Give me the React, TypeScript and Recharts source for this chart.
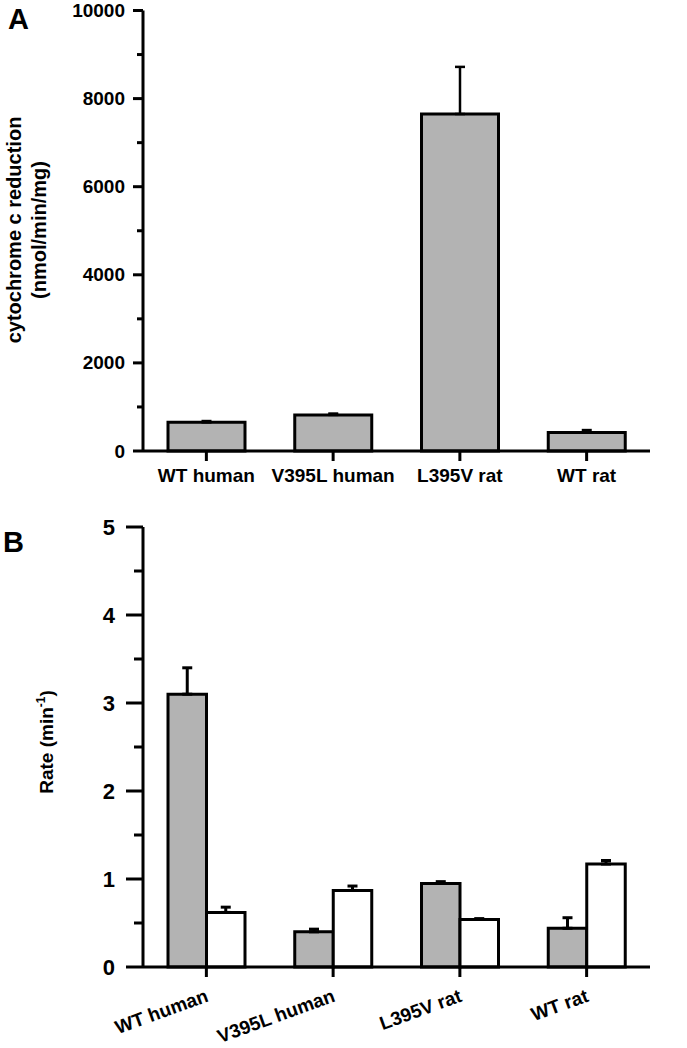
import React from 'react';
import { BarChart, Bar, XAxis, YAxis, ErrorBar } from 'recharts';

const categories = ['WT human', 'V395L human', 'L395V rat', 'WT rat'];
const reductionValues = [650, 820, 7650, 420];
const reductionErrors = [30, 30, 1070, 55];
const reductionTicks = [0, 1000, 2000, 3000, 4000, 5000, 6000, 7000, 8000, 9000, 10000];

const rateGray = [3.1, 0.4, 0.95, 0.44];
const rateGrayErr = [0.3, 0.03, 0.02, 0.12];
const rateWhite = [0.62, 0.87, 0.54, 1.17];
const rateWhiteErr = [0.06, 0.05, 0.01, 0.04];
const rateTicks = [0, 0.5, 1, 1.5, 2, 2.5, 3, 3.5, 4, 4.5, 5];

const dataA = categories.map((c, i) => ({
  name: c,
  value: reductionValues[i],
  err: [0, reductionErrors[i]],
}));

const dataB = categories.map((c, i) => ({
  name: c,
  gray: rateGray[i],
  grayErr: [0, rateGrayErr[i]],
  white: rateWhite[i],
  whiteErr: [0, rateWhiteErr[i]],
}));

const FONT = '"Liberation Sans", Arial, Helvetica, sans-serif';
const GRAY = '#b3b3b3';

const makeYTick = (majorLen: number, minorLen: number, gap: number, fontSize: number, isMajor: (v: number) => boolean) =>
  (props: any) => {
    const { x, y, payload } = props;
    const v = payload.value;
    const major = isMajor(v);
    const len = major ? majorLen : minorLen;
    return (
      <g>
        <line x1={x - len} y1={y} x2={x} y2={y} stroke="#000" strokeWidth={3} />
        {major && (
          <text x={x - majorLen - gap} y={y} textAnchor="end" dominantBaseline="central"
            fontFamily={FONT} fontWeight="bold" fontSize={fontSize} fill="#000">
            {v}
          </text>
        )}
      </g>
    );
  };

const XTickA = (props: any) => {
  const { x, y, payload } = props;
  return (
    <g>
      <line x1={x} y1={y} x2={x} y2={y + 10} stroke="#000" strokeWidth={3} />
      <text x={x} y={y + 31} textAnchor="middle" fontFamily={FONT} fontWeight="bold" fontSize={19} fill="#000">
        {payload.value}
      </text>
    </g>
  );
};

const XTickB = (props: any) => {
  const { x, y, payload } = props;
  const ax = x + 3;
  const ay = y + 34;
  return (
    <g>
      <line x1={x} y1={y} x2={x} y2={y + 10} stroke="#000" strokeWidth={3} />
      <text x={ax} y={ay} textAnchor="end" transform={`rotate(-20, ${ax}, ${ay})`}
        fontFamily={FONT} fontWeight="bold" fontSize={19} fill="#000">
        {payload.value}
      </text>
    </g>
  );
};

const yTickA = makeYTick(10, 6, 8, 19, (v) => v % 2000 === 0);
const yTickB = makeYTick(17, 9, 11, 22, (v) => Number.isInteger(v));

export default function App() {
  return (
    <div style={{ position: 'fixed', left: 0, top: 0, width: 687, height: 1048, background: '#fff' }}>
      <div style={{ position: 'absolute', left: 0, top: 0 }}>
        <BarChart width={687} height={500} data={dataA} margin={{ top: 10.5, right: 37, left: 0, bottom: 0 }}>
          <XAxis dataKey="name" height={49} tickSize={0} tickMargin={0} interval={0}
            axisLine={{ stroke: '#000', strokeWidth: 3 }} tickLine={false} tick={XTickA} />
          <YAxis type="number" width={143} domain={[0, 10000]} ticks={reductionTicks} interval={0}
            tickSize={0} tickMargin={0} axisLine={{ stroke: '#000', strokeWidth: 3 }} tickLine={false} tick={yTickA} />
          <Bar dataKey="value" fill={GRAY} stroke="#000" strokeWidth={3} barSize={77} isAnimationActive={false}>
            <ErrorBar dataKey="err" direction="y" width={5} stroke="#000" strokeWidth={2.5} />
          </Bar>
        </BarChart>
      </div>
      <div style={{ position: 'absolute', left: 0, top: 510 }}>
        <BarChart width={687} height={538} data={dataB} margin={{ top: 17, right: 37, left: 0, bottom: 11 }}
          barGap={0}>
          <XAxis dataKey="name" height={70} tickSize={0} tickMargin={0} interval={0}
            axisLine={{ stroke: '#000', strokeWidth: 3 }} tickLine={false} tick={XTickB} />
          <YAxis type="number" width={143} domain={[0, 5]} ticks={rateTicks} interval={0}
            tickSize={0} tickMargin={0} axisLine={{ stroke: '#000', strokeWidth: 3 }} tickLine={false} tick={yTickB} />
          <Bar dataKey="gray" fill={GRAY} stroke="#000" strokeWidth={3} barSize={38.5} isAnimationActive={false}>
            <ErrorBar dataKey="grayErr" direction="y" width={5} stroke="#000" strokeWidth={3} />
          </Bar>
          <Bar dataKey="white" fill="#fff" stroke="#000" strokeWidth={3} barSize={38.5} isAnimationActive={false}>
            <ErrorBar dataKey="whiteErr" direction="y" width={5} stroke="#000" strokeWidth={3} />
          </Bar>
        </BarChart>
      </div>
      <svg width={687} height={1048} style={{ position: 'absolute', left: 0, top: 0, pointerEvents: 'none' }}>
        <text x={8} y={29} fontFamily={FONT} fontWeight="bold" fontSize={29} fill="#000">A</text>
        <text x={3} y={552} fontFamily={FONT} fontWeight="bold" fontSize={29} fill="#000">B</text>
        <text x={21} y={230} transform="rotate(-90, 21, 230)" textAnchor="middle"
          fontFamily={FONT} fontWeight="bold" fontSize={20} fill="#000">cytochrome c reduction</text>
        <text x={46} y={230} transform="rotate(-90, 46, 230)" textAnchor="middle"
          fontFamily={FONT} fontWeight="bold" fontSize={20} fill="#000">(nmol/min/mg)</text>
        <text x={53} y={742} transform="rotate(-90, 53, 742)" textAnchor="middle"
          fontFamily={FONT} fontWeight="bold" fontSize={19} fill="#000">
          Rate (min<tspan fontSize={12} dy={-8}>-1</tspan><tspan dy={8}>)</tspan>
        </text>
      </svg>
    </div>
  );
}
